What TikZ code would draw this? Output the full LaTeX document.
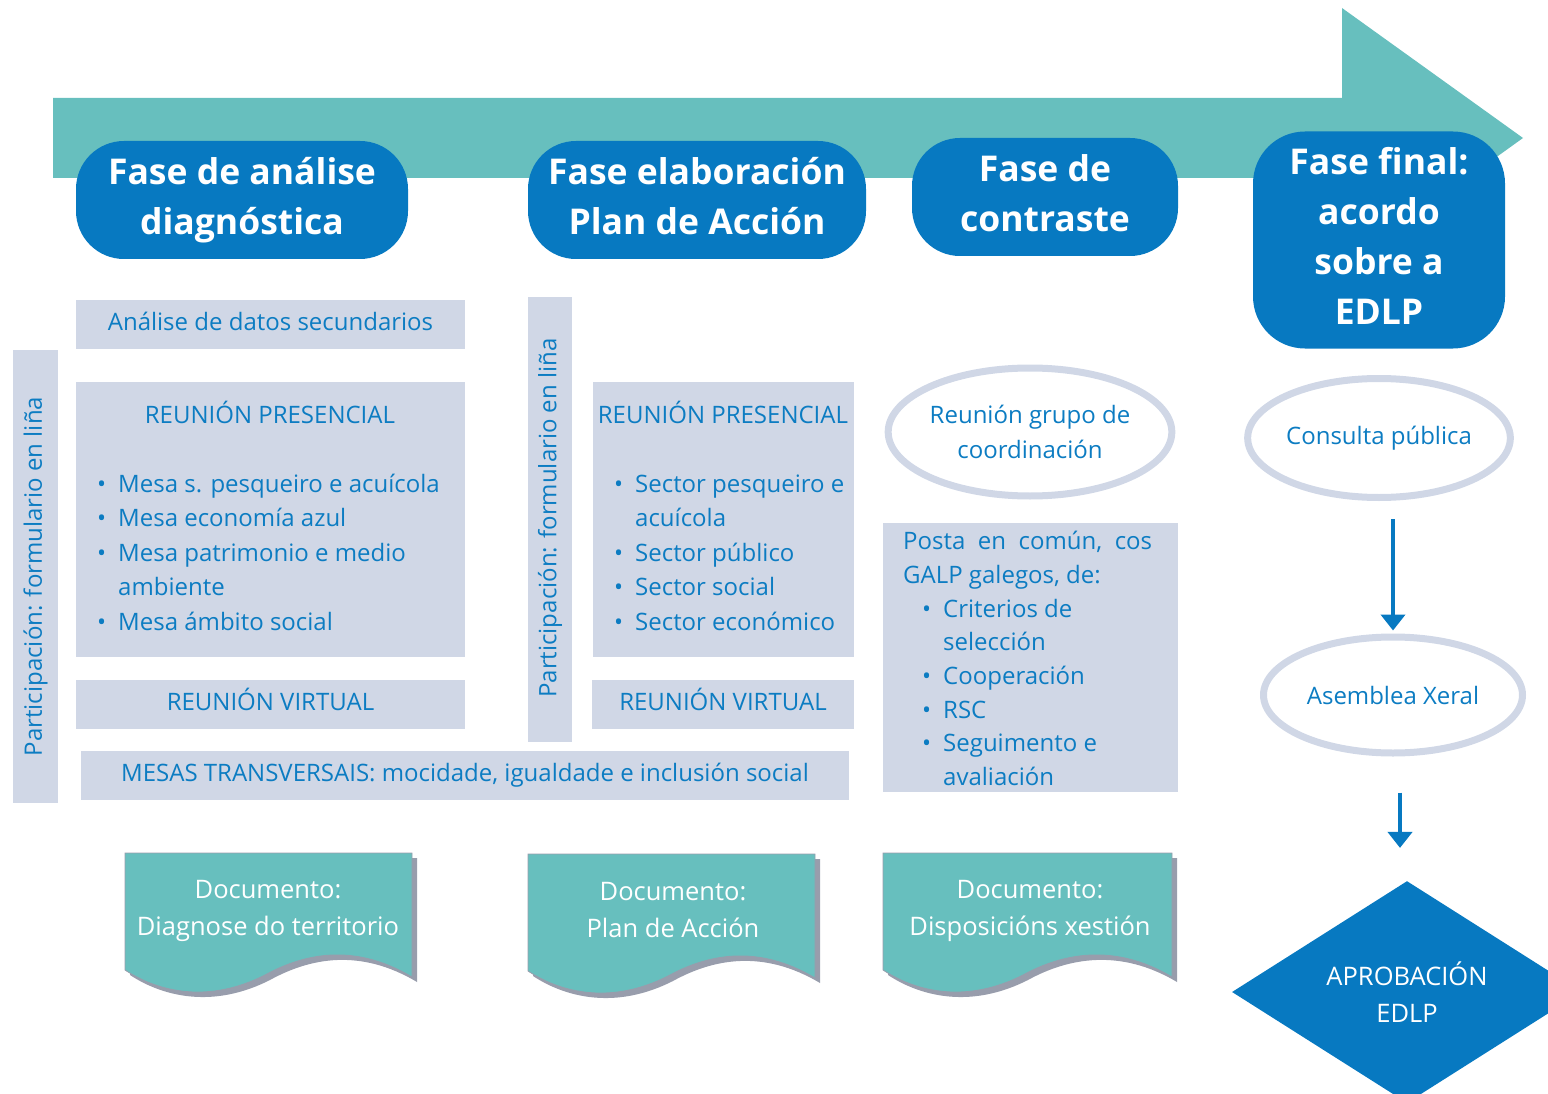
\documentclass[tikz,border=0pt]{standalone}
\usepackage{fontspec}
\setmainfont{Open Sans}
\usetikzlibrary{arrows.meta,shapes.geometric,positioning}

\definecolor{phaseblue}{RGB}{7,121,193}
\definecolor{arrowteal}{RGB}{103,191,190}
\definecolor{boxgrey}{RGB}{208,215,230}
\definecolor{textblue}{RGB}{12,124,194}
\definecolor{docshade}{RGB}{152,157,172}

\newcommand{\headfont}{\fontsize{35.5}{50}\selectfont\bfseries}
\newcommand{\bodyfont}{\fontsize{24}{34.5}\selectfont}
\newcommand{\docfont}{\fontsize{25.5}{37}\selectfont}
\newcommand{\bul}{\makebox[21pt][l]{\textbullet}}
\newcommand{\ind}{\hspace*{21pt}}

\tikzstyle{phase} = [rectangle, rounded corners=48pt, fill=phaseblue, text=white, font=\headfont, align=center, inner sep=0pt, text depth=8.5pt]
\tikzstyle{greybox} = [rectangle, fill=boxgrey, text=textblue, font=\bodyfont, inner sep=0pt, text height=17pt, text depth=5pt]
\tikzstyle{listtext} = [text=textblue, font=\bodyfont, align=left, inner sep=0pt]
\tikzstyle{oval} = [ellipse, draw=boxgrey, line width=7pt, text=textblue, font=\bodyfont, align=center, inner sep=0pt]
\tikzstyle{doctext} = [text=white, font=\docfont, align=center, inner sep=0pt]
\tikzstyle{decision} = [diamond, fill=phaseblue, text=white, font=\docfont, align=center, inner sep=0pt]
\tikzstyle{flow} = [line width=4pt, draw=phaseblue, -{Triangle[width=24pt,length=16pt]}]

\begin{document}
\begin{tikzpicture}[x=1pt, y=-1pt]
   \useasboundingbox (0,0) rectangle (1548,1094);
   \clip (0,0) rectangle (1548,1094);

   % big arrow
   \fill[arrowteal] (53,98) -- (1342,98) -- (1342,8) -- (1523,138) -- (1342,268) -- (1342,178) -- (53,178) -- cycle;

   % phases
   \node[phase, minimum width=332pt, minimum height=118pt] (diag) at (242,200) {Fase de análise\\diagnóstica};
   \node[phase, minimum width=338pt, minimum height=118pt] (plan) at (697,200) {Fase elaboración\\Plan de Acción};
   \node[phase, minimum width=266pt, minimum height=118pt] (contr) at (1045,197) {Fase de\\contraste};
   \node[phase, minimum width=252pt, minimum height=217pt, rounded corners=52pt] (final) at (1379,240) {Fase final:\\acordo\\sobre a\\EDLP};

   % participation bars
   \node[greybox, minimum width=45pt, minimum height=453pt] (part1) at (35.5,576.5) {};
   \node[listtext, rotate=90] (part1t) at (part1) {Participación: formulario en liña};
   \node[greybox, minimum width=44pt, minimum height=445pt] (part2) at (550,519.5) {};
   \node[listtext, rotate=90] (part2t) at (550,518) {Participación: formulario en liña};

   % first column
   \node[greybox, minimum width=389pt, minimum height=49pt] (datos) at (270.5,324.5) {Análise de datos secundarios};
   \node[greybox, minimum width=389pt, minimum height=275pt] (pres1) at (270.5,519.5) {};
   \node[listtext, anchor=base] (pres1t) at (270,423) {REUNIÓN PRESENCIAL};
   \node[listtext, anchor=base west] (pres1l) at (97,630) {\bul Mesa s. pesqueiro e acuícola\\ \bul Mesa economía azul\\ \bul Mesa patrimonio e medio\\ \ind ambiente\\ \bul Mesa ámbito social};
   \node[greybox, minimum width=389pt, minimum height=49pt] (virt1) at (270.5,704.5) {REUNIÓN VIRTUAL};

   % second column
   \node[greybox, minimum width=261pt, minimum height=275pt] (pres2) at (723.5,519.5) {};
   \node[listtext, anchor=base] (pres2t) at (723,423) {REUNIÓN PRESENCIAL};
   \node[listtext, anchor=base west] (pres2l) at (614,630) {\bul Sector pesqueiro e\\ \ind acuícola\\ \bul Sector público\\ \bul Sector social\\ \bul Sector económico};
   \node[greybox, minimum width=262pt, minimum height=49pt] (virt2) at (723,704.5) {REUNIÓN VIRTUAL};

   \node[greybox, minimum width=768pt, minimum height=49pt] (mesas) at (465,775.5) {MESAS TRANSVERSAIS: mocidade, igualdade e inclusión social};

   % third column
   \node[oval, minimum width=282pt, minimum height=128pt] (coord) at (1030,432) {Reunión grupo de\\coordinación};
   \node[greybox, minimum width=295pt, minimum height=269pt] (posta) at (1030.5,657.5) {};
   \node[listtext, anchor=base west, font=\fontsize{24}{33.7}\selectfont] (postal) at (903,785.5) {\makebox[249pt][s]{Posta\hfill en\hfill común,\hfill cos}\\ GALP galegos, de:\\ \hspace*{19pt}\bul Criterios de\\ \hspace*{40pt}selección\\ \hspace*{19pt}\bul Cooperación\\ \hspace*{19pt}\bul RSC\\ \hspace*{19pt}\bul Seguimento e\\ \hspace*{40pt}avaliación};

   % final column
   \node[oval, minimum width=257pt, minimum height=119pt] (consulta) at (1379,438) {Consulta pública};
   \node[oval, minimum width=259pt, minimum height=116pt] (asemblea) at (1393,695) {Asemblea Xeral};
   \node[decision, minimum width=350pt, minimum height=212pt] (aprob) at (1407,992) {APROBACIÓN\\EDLP};

   % documents
   \foreach \dx/\dy/\w in {125/853/287, 528/854/287, 883/853/289} {
      \begin{scope}[shift={(\dx,\dy)}]
         \fill[docshade] (5,5) -- (\w+5,5) -- (\w+5,129) .. controls (\w-52,95) and (185,105) .. (145,127) .. controls (90,155) and (40,145) .. (5,122) -- cycle;
         \filldraw[fill=arrowteal, draw=docshade, line width=0.8pt] (0,0) -- (\w,0) -- (\w,124) .. controls (\w-57,90) and (180,100) .. (140,122) .. controls (85,150) and (35,140) .. (0,117) -- cycle;
      \end{scope}
   }
   \node[doctext] (doc1) at (268,911) {Documento:\\Diagnose do territorio};
   \node[doctext] (doc2) at (673,910) {Documento:\\Plan de Acción};
   \node[doctext] (doc3) at (1030,911) {Documento:\\Disposicións xestión};

   % edges
   \draw[flow, shorten <=18pt, shorten >=3pt] (asemblea.north |- consulta.south) -- (asemblea.north);
   \draw[flow, shorten <=36pt, shorten >=33pt] ([xshift=7pt]asemblea.south) -- ([xshift=7pt]asemblea.south |- aprob.north);
\end{tikzpicture}
\end{document}
